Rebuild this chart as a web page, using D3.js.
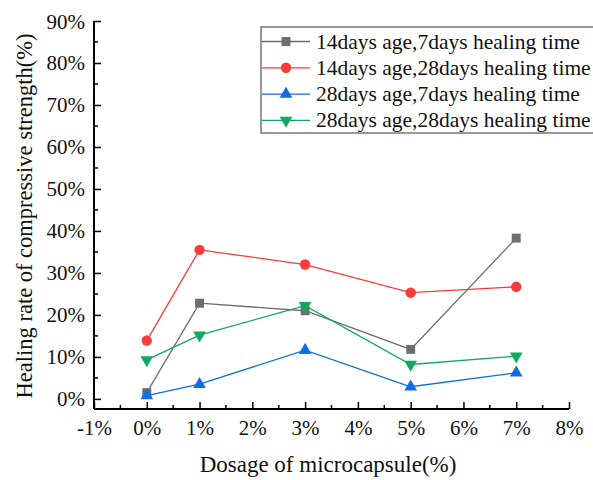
<!DOCTYPE html>
<html>
<head>
<meta charset="utf-8">
<script src="https://cdn.jsdelivr.net/npm/d3@7"></script>
</head>
<body style="margin:0">
<svg width="593" height="480" id="chart"></svg>
<script>
// data
let dosage = [0, 1, 3, 5, 7];
let s14d7 = [1.5, 22.8, 21.0, 11.8, 38.3];
let s14d28 = [13.9, 35.5, 32.0, 25.3, 26.7];
let s28d7 = [0.8, 3.5, 11.6, 2.9, 6.2];
let s28d28 = [9.3, 15.2, 22.2, 8.2, 10.2];
let seriesNames = [
  "14days age,7days healing time",
  "14days age,28days healing time",
  "28days age,7days healing time",
  "28days age,28days healing time"
];
let xTicks = [-1, 0, 1, 2, 3, 4, 5, 6, 7, 8];
let yTicks = [0, 10, 20, 30, 40, 50, 60, 70, 80, 90];

let W = 593, H = 480;
let margin = { top: 21, right: 24, bottom: 71, left: 94 };
let width = W - margin.left - margin.right;
let height = H - margin.top - margin.bottom;
let fontFam = "'Liberation Serif'";
// text is set at 24px and scaled down to the wanted size
let base = 24;

let x = d3.scaleLinear().domain([-1, 8]).range([0, width]);
let y = d3.scaleLinear().domain([-2.4, 90]).range([height, 0]);

let series = [
  { name: seriesNames[0], values: s14d7, color: "#6e6e6e", shape: d3.symbolSquare, size: 80, flip: false },
  { name: seriesNames[1], values: s14d28, color: "#fb3a3a", shape: d3.symbolCircle, size: 85, flip: false },
  { name: seriesNames[2], values: s28d7, color: "#0f6fe0", shape: d3.symbolTriangle, size: 70, flip: false },
  { name: seriesNames[3], values: s28d28, color: "#13a862", shape: d3.symbolTriangle, size: 70, flip: true }
];

function serifText(sel, px, tx, ty, rot) {
  sel.attr("x", 0).attr("y", 0).attr("dy", null)
    .attr("font-family", fontFam)
    .attr("font-size", base)
    .attr("fill", "#111")
    .attr("transform", "translate(" + tx + "," + ty + ")" + (rot ? " rotate(" + rot + ")" : "") + " scale(" + (px / base) + ")");
  return sel;
}

let svg = d3.select("#chart");

let g = svg.append("g")
  .attr("transform", "translate(" + margin.left + "," + margin.top + ")");

// X axis (ticks point inward)
let xAxis = d3.axisBottom(x).tickValues(xTicks).tickSize(-7)
  .tickFormat(d => d + "%");
let gx = g.append("g")
  .attr("transform", "translate(0," + height + ")")
  .call(xAxis);
gx.selectAll(".minor").data(d3.range(-0.5, 8, 1)).enter().append("line")
  .attr("x1", d => x(d)).attr("x2", d => x(d))
  .attr("y1", 0).attr("y2", -4)
  .attr("stroke", "#000").attr("stroke-width", 1.5);

// Y axis
let yAxis = d3.axisLeft(y).tickValues(yTicks).tickSize(-7)
  .tickFormat(d => d + "%");
let gy = g.append("g").call(yAxis);
gy.selectAll(".minor").data(d3.range(5, 90, 10)).enter().append("line")
  .attr("x1", 0).attr("x2", 4)
  .attr("y1", d => y(d)).attr("y2", d => y(d))
  .attr("stroke", "#000").attr("stroke-width", 1.5);

[gx, gy].forEach(a => {
  a.attr("font-family", fontFam);
  a.select(".domain").attr("stroke", "#000").attr("stroke-width", 2);
  a.selectAll(".tick line").attr("stroke", "#000").attr("stroke-width", 1.5);
});
serifText(gx.selectAll(".tick text"), 21, 0, 26);
serifText(gy.selectAll(".tick text"), 21, -9, 7);
gx.select(".domain").attr("d", "M0,0H" + width);
gy.select(".domain").attr("d", "M0," + height + "V0");

// Lines and markers
let line = d3.line()
  .x((d, i) => x(dosage[i]))
  .y(d => y(d));

series.forEach(s => {
  g.append("path")
    .datum(s.values)
    .attr("fill", "none")
    .attr("stroke", s.color)
    .attr("stroke-width", 1.3)
    .attr("d", line);

  g.selectAll(null).data(s.values).enter().append("path")
    .attr("d", d3.symbol().type(s.shape).size(s.size))
    .attr("transform", (d, i) => "translate(" + x(dosage[i]) + "," + y(d) + ")" + (s.flip ? " rotate(180)" : ""))
    .attr("fill", s.color);
});

// Axis titles
serifText(svg.append("text").attr("text-anchor", "middle")
  .text("Dosage of microcapsule(%)"), 23, 328, 472);

serifText(svg.append("text").attr("text-anchor", "middle")
  .text("Healing rate of compressive strength(%)"), 22.5, 32, 216, -90);

// Legend
let lg = svg.append("g").attr("transform", "translate(261,27)");
lg.append("rect")
  .attr("x", 0).attr("y", 0)
  .attr("width", 340).attr("height", 106)
  .attr("fill", "#fff").attr("stroke", "#333").attr("stroke-width", 1);

series.forEach((s, i) => {
  let cy = 14.5 + i * 26.3;
  lg.append("line")
    .attr("x1", 1).attr("x2", 49)
    .attr("y1", cy).attr("y2", cy)
    .attr("stroke", s.color).attr("stroke-width", 1.3);
  lg.append("path")
    .attr("d", d3.symbol().type(s.shape).size(s.size))
    .attr("transform", "translate(25," + cy + ")" + (s.flip ? " rotate(180)" : ""))
    .attr("fill", s.color);
  serifText(lg.append("text").text(s.name), 21.5, 55, cy + 7);
});
</script>
</body>
</html>
